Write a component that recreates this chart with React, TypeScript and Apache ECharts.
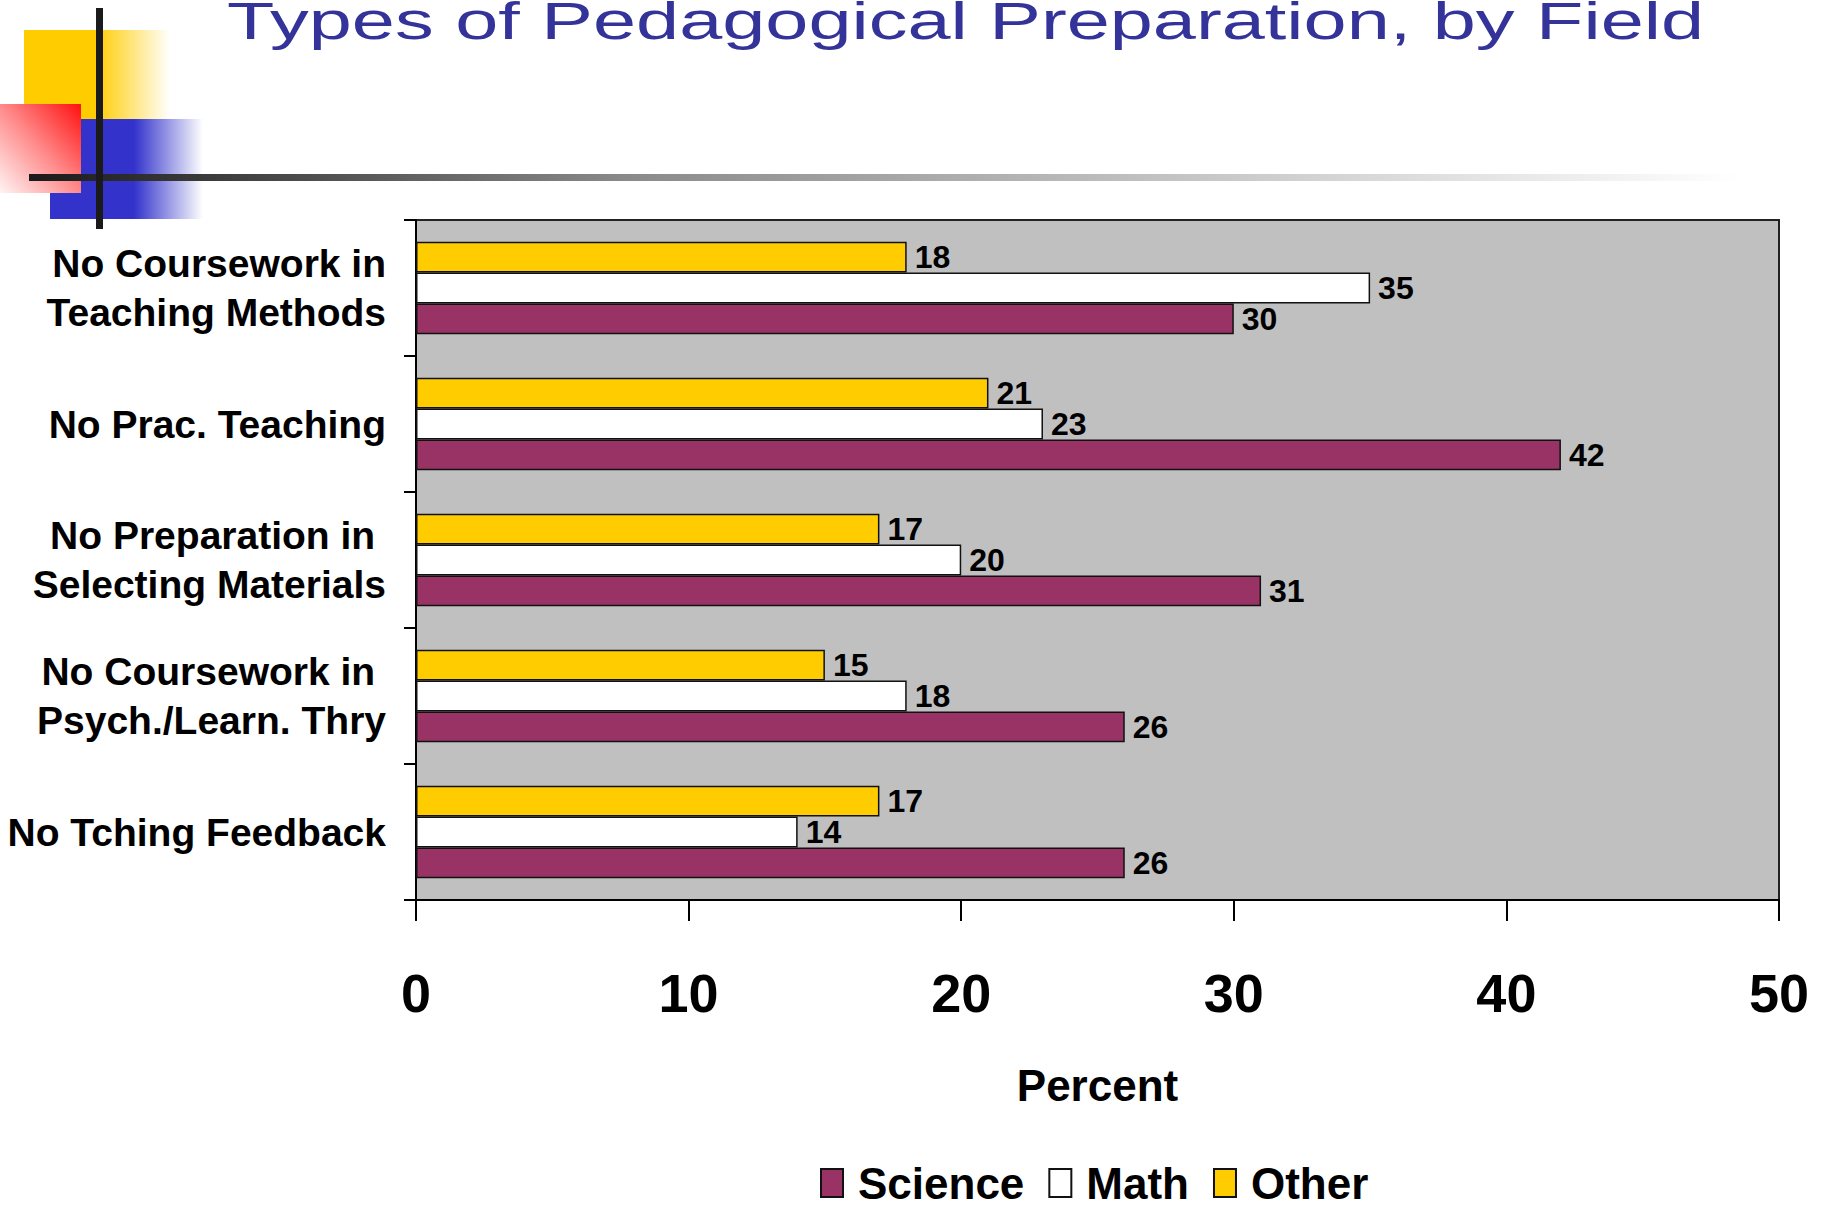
import React, { useEffect, useRef } from "react";
import * as echarts from "echarts";

const categories = [
  "No Coursework in\nTeaching Methods",
  "No Prac. Teaching",
  "No Preparation in\u00a0\nSelecting Materials",
  "No Coursework in\u00a0\nPsych./Learn. Thry",
  "No Tching Feedback",
];
const scienceValues = [30, 42, 31, 26, 26];
const mathValues = [35, 23, 20, 18, 14];
const otherValues = [18, 21, 17, 15, 17];
const xTicks = { min: 0, max: 50, interval: 10 };
const titleText = "Types of Pedagogical Preparation, by Field";
const legendNames = ["Science", "Math", "Other"];

const FONT = "'Liberation Sans', Arial, sans-serif";

export default function App() {
  const ref = useRef<HTMLDivElement>(null);
  useEffect(() => {
    document.body.style.margin = "0";
    if (!ref.current) return;
    const chart = echarts.init(ref.current, null, { renderer: "svg" });
    const barLabel = {
      show: true,
      position: "right",
      distance: 8,
      color: "#000",
      fontFamily: FONT,
      fontWeight: "bold",
      fontSize: 32,
    };
    const border = { borderColor: "#111", borderWidth: 1.5 };
    chart.setOption({
      animation: false,
      backgroundColor: "#ffffff",
      textStyle: { fontFamily: FONT },
      graphic: [
        {
          type: "rect",
          shape: { x: 24, y: 30, width: 146, height: 89 },
          style: {
            fill: new echarts.graphic.LinearGradient(0, 0, 1, 0, [
              { offset: 0, color: "#FFCC00" },
              { offset: 0.49, color: "#FFCC00" },
              { offset: 1, color: "rgba(255,255,255,1)" },
            ]),
          },
          z: 1,
        },
        {
          type: "rect",
          shape: { x: 50, y: 119, width: 153, height: 100 },
          style: {
            fill: new echarts.graphic.LinearGradient(0, 0, 1, 0, [
              { offset: 0, color: "#3333CC" },
              { offset: 0.55, color: "#3333CC" },
              { offset: 1, color: "rgba(255,255,255,1)" },
            ]),
          },
          z: 1,
        },
        {
          type: "rect",
          shape: { x: 0, y: 104, width: 81, height: 89 },
          style: {
            fill: new echarts.graphic.LinearGradient(1, 0, 0, 1, [
              { offset: 0, color: "#FF1010" },
              { offset: 0.5, color: "#FF8A8A" },
              { offset: 1, color: "#FFF4F4" },
            ]),
          },
          z: 2,
        },
        {
          type: "rect",
          shape: { x: 29, y: 174, width: 1710, height: 7 },
          style: {
            fill: new echarts.graphic.LinearGradient(0, 0, 1, 0, [
              { offset: 0, color: "#1a1a1a" },
              { offset: 0.35, color: "#8a8a8a" },
              { offset: 1, color: "#ffffff" },
            ]),
          },
          z: 3,
        },
        {
          type: "rect",
          shape: { x: 96, y: 8, width: 7, height: 221 },
          style: { fill: "#1a1a1a" },
          z: 4,
        },
        {
          type: "text",
          x: 227,
          y: 21,
          scaleX: 1.49,
          style: {
            text: titleText,
            fill: "#333399",
            font: `52px ${FONT}`,
            textAlign: "left",
            textVerticalAlign: "middle",
          },
          z: 5,
        },
      ],
      grid: {
        left: 416,
        right: 45,
        top: 220,
        bottom: 310,
        show: true,
        backgroundColor: "#C0C0C0",
        borderColor: "#222",
        borderWidth: 2,
        containLabel: false,
      },
      legend: {
        data: legendNames,
        left: 815,
        top: 1156,
        itemWidth: 22,
        itemHeight: 28,
        itemGap: 24,
        icon: "rect",
        textStyle: {
          fontFamily: FONT,
          fontWeight: "bold",
          fontSize: 44,
          color: "#000",
          padding: [0, 0, 0, 10],
        },
      },
      xAxis: {
        type: "value",
        min: xTicks.min,
        max: xTicks.max,
        interval: xTicks.interval,
        name: "Percent",
        nameLocation: "middle",
        nameGap: 163,
        nameTextStyle: {
          fontFamily: FONT,
          fontWeight: "bold",
          fontSize: 44,
          color: "#000",
        },
        axisLine: { show: true, lineStyle: { color: "#000", width: 2 } },
        axisTick: { show: true, length: 21, lineStyle: { color: "#000", width: 2 } },
        axisLabel: {
          fontFamily: FONT,
          fontWeight: "bold",
          fontSize: 54,
          color: "#000",
          margin: 66,
        },
        splitLine: { show: false },
      },
      yAxis: {
        type: "category",
        data: categories,
        inverse: true,
        axisLine: { show: true, lineStyle: { color: "#000", width: 2 } },
        axisTick: { show: true, length: 12, lineStyle: { color: "#000", width: 2 } },
        axisLabel: {
          fontFamily: FONT,
          fontWeight: "bold",
          fontSize: 39,
          lineHeight: 49,
          color: "#000",
          margin: 30,
          align: "right",
        },
        splitLine: { show: false },
      },
      series: [
        {
          name: "Other",
          type: "bar",
          data: otherValues,
          barGap: "0%",
          barCategoryGap: "32%",
          itemStyle: { color: "#FFCC00", ...border },
          label: barLabel,
        },
        {
          name: "Math",
          type: "bar",
          data: mathValues,
          barGap: "0%",
          barCategoryGap: "32%",
          itemStyle: { color: "#FFFFFF", ...border },
          label: barLabel,
        },
        {
          name: "Science",
          type: "bar",
          data: scienceValues,
          barGap: "0%",
          barCategoryGap: "32%",
          itemStyle: { color: "#993366", ...border },
          label: barLabel,
        },
      ],
    });
    return () => chart.dispose();
  }, []);
  return <div ref={ref} style={{ width: 1824, height: 1210 }} />;
}
